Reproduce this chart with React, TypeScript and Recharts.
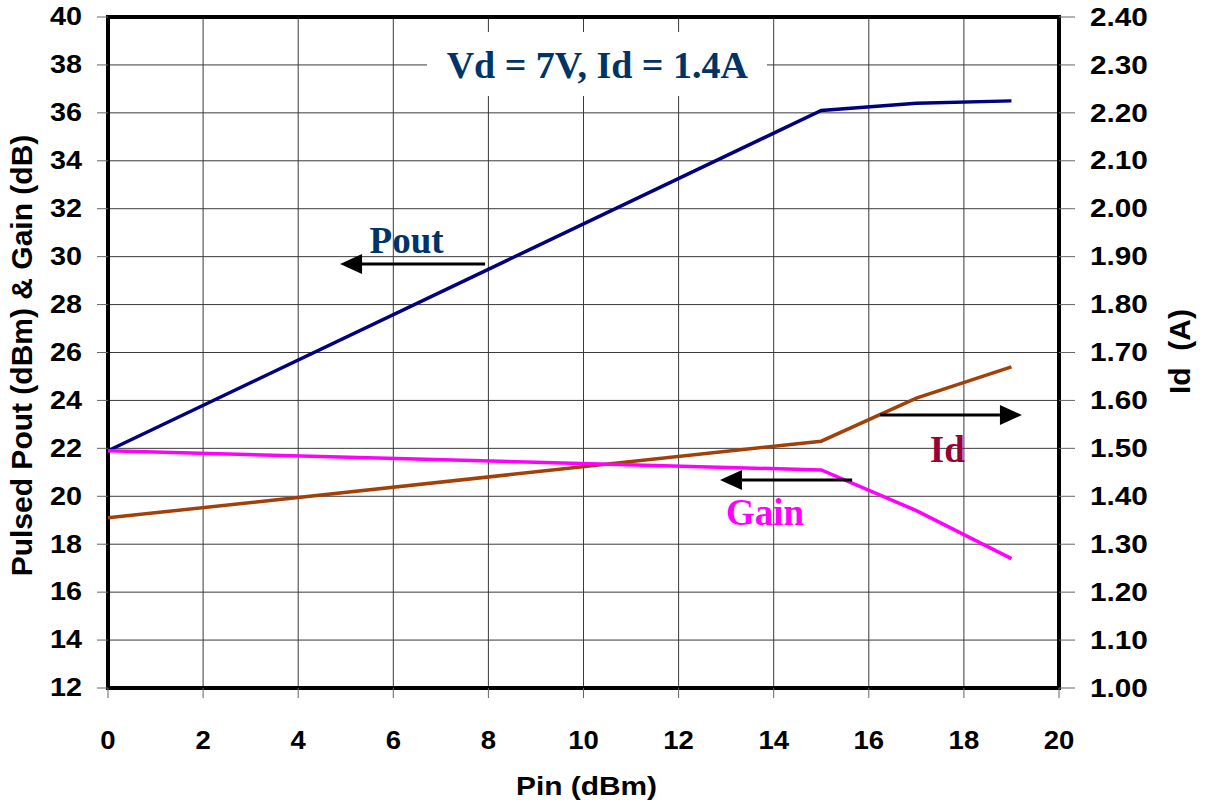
import {
  LineChart,
  Line,
  XAxis,
  YAxis,
  CartesianGrid,
  ReferenceArea,
  ReferenceLine,
  ReferenceDot,
} from 'recharts';

const pin = [0, 15, 17, 19];
const pout = [21.9, 36.1, 36.4, 36.5];
const gain = [21.9, 21.1, 19.4, 17.4];
const idAmps = [1.355, 1.515, 1.605, 1.67];

const xTicks = [0, 2, 4, 6, 8, 10, 12, 14, 16, 18, 20];
const leftTicks = [12, 14, 16, 18, 20, 22, 24, 26, 28, 30, 32, 34, 36, 38, 40];
const rightTicks = [1.0, 1.1, 1.2, 1.3, 1.4, 1.5, 1.6, 1.7, 1.8, 1.9, 2.0, 2.1, 2.2, 2.3, 2.4];

const data = pin.map((p, i) => ({ pin: p, pout: pout[i], gain: gain[i], id: idAmps[i] }));

const SANS = '"Liberation Sans", Arial, sans-serif';
const SERIF = '"Liberation Serif", "Times New Roman", serif';

// bold sans tick label, a little wider than the plain font
const makeTick = (anchor: 'start' | 'middle' | 'end', sx: number, fmt?: (v: number) => string) =>
  (props: any) => {
    const { x, y, payload } = props;
    const v = fmt ? fmt(payload.value) : String(payload.value);
    return (
      <g transform={`translate(${x},${y}) scale(${sx},1)`}>
        <text
          x={0}
          y={0}
          textAnchor={anchor}
          dominantBaseline="central"
          fill="#000"
          fontFamily={SANS}
          fontWeight={700}
          fontSize={25}
        >
          {v}
        </text>
      </g>
    );
  };

// arrow drawn from (x1,y1) to the head at (x2,y2)
const arrow = (props: any) => {
  const { x1, y1, x2, y2 } = props;
  const dir = x2 > x1 ? 1 : -1;
  const len = 22;
  const half = 10;
  const bx = x2 - dir * len;
  return (
    <g>
      <line x1={x1} y1={y1} x2={bx} y2={y2} stroke="#000" strokeWidth={3} />
      <polygon points={`${x2},${y2} ${bx},${y2 - half} ${bx},${y2 + half}`} fill="#000" />
    </g>
  );
};

const note = (text: string, color: string, size: number) => (props: any) => (
  <text
    x={props.cx}
    y={props.cy}
    textAnchor="middle"
    fill={color}
    fontFamily={SERIF}
    fontWeight={700}
    fontSize={size}
  >
    {text}
  </text>
);

export default function App() {
  return (
    <div style={{ position: 'absolute', left: 0, top: 0, background: '#fff' }}>
      <LineChart
        width={1209}
        height={804}
        data={data}
        margin={{ top: 17, right: 0, bottom: 0, left: 0 }}
      >
        <CartesianGrid yAxisId="left" stroke="#3a3a3a" strokeWidth={1} />
        <XAxis
          dataKey="pin"
          type="number"
          domain={[0, 20]}
          ticks={xTicks}
          interval={0}
          height={116}
          axisLine={false}
          tickLine={{ stroke: '#666' }}
          tickSize={10}
          tickMargin={42}
          tick={makeTick('middle', 1.1)}
          label={(p: any) => {
            const vb = p.viewBox;
            const cx = vb.x + vb.width / 2 + 3;
            const cy = vb.y + 98;
            return (
              <g transform={`translate(${cx},${cy}) scale(1.15,1)`}>
                <text
                  x={0}
                  y={0}
                  textAnchor="middle"
                  dominantBaseline="central"
                  fontFamily={SANS}
                  fontWeight={700}
                  fontSize={26}
                >
                  Pin (dBm)
                </text>
              </g>
            );
          }}
        />
        <YAxis
          yAxisId="left"
          domain={[12, 40]}
          ticks={leftTicks}
          interval={0}
          width={108}
          axisLine={false}
          tickLine={{ stroke: '#666' }}
          tickSize={11}
          tickMargin={15}
          tick={makeTick('end', 1.15)}
          label={(p: any) => {
            const vb = p.viewBox;
            const cx = 21;
            const cy = vb.y + vb.height / 2 + 3;
            return (
              <text
                x={cx}
                y={cy}
                transform={`rotate(-90 ${cx} ${cy})`}
                textAnchor="middle"
                dominantBaseline="central"
                fontFamily={SANS}
                fontWeight={700}
                fontSize={30}
              >
                Pulsed Pout (dBm) &amp; Gain (dB)
              </text>
            );
          }}
        />
        <YAxis
          yAxisId="right"
          orientation="right"
          domain={[1.0, 2.4]}
          ticks={rightTicks}
          interval={0}
          width={150}
          axisLine={false}
          tickLine={{ stroke: '#666' }}
          tickSize={16}
          tickMargin={15}
          tick={makeTick('start', 1.19, (v: number) => v.toFixed(2))}
          label={(p: any) => {
            const vb = p.viewBox;
            const cx = 1179;
            const cy = vb.y + vb.height / 2 - 1;
            return (
              <text
                x={cx}
                y={cy}
                transform={`rotate(-90 ${cx} ${cy})`}
                textAnchor="middle"
                dominantBaseline="central"
                fontFamily={SANS}
                fontWeight={700}
                fontSize={30}
                style={{ whiteSpace: 'pre' }}
              >
                {'Id  (A)'}
              </text>
            );
          }}
        />
        <ReferenceArea
          yAxisId="left"
          x1={6.71}
          x2={13.86}
          y1={36.7}
          y2={39.37}
          fill="#fff"
          fillOpacity={1}
          stroke="none"
        />
        <ReferenceArea
          yAxisId="left"
          x1={0}
          x2={20}
          y1={12}
          y2={40}
          fill="none"
          stroke="#000"
          strokeWidth={4}
        />
        <Line
          yAxisId="left"
          dataKey="pout"
          stroke="#000080"
          strokeWidth={3.5}
          dot={false}
          isAnimationActive={false}
        />
        <Line
          yAxisId="right"
          dataKey="id"
          stroke="#A3400A"
          strokeWidth={3.5}
          dot={false}
          isAnimationActive={false}
        />
        <Line
          yAxisId="left"
          dataKey="gain"
          stroke="#FF00FF"
          strokeWidth={3.5}
          dot={false}
          isAnimationActive={false}
        />
        <ReferenceLine
          yAxisId="left"
          segment={[{ x: 7.93, y: 29.69 }, { x: 4.88, y: 29.69 }]}
          shape={arrow}
        />
        <ReferenceLine
          yAxisId="left"
          segment={[{ x: 15.65, y: 20.68 }, { x: 12.87, y: 20.68 }]}
          shape={arrow}
        />
        <ReferenceLine
          yAxisId="left"
          segment={[{ x: 16.24, y: 23.39 }, { x: 19.22, y: 23.39 }]}
          shape={arrow}
        />
        <ReferenceDot yAxisId="left" x={10.29} y={37.45} shape={note('Vd = 7V, Id = 1.4A', '#003366', 38)} />
        <ReferenceDot yAxisId="left" x={6.28} y={30.15} shape={note('Pout', '#003366', 37)} />
        <ReferenceDot yAxisId="left" x={17.65} y={21.43} shape={note('Id', '#990033', 37)} />
        <ReferenceDot yAxisId="left" x={13.82} y={18.8} shape={note('Gain', '#FF00FF', 37)} />
      </LineChart>
    </div>
  );
}
